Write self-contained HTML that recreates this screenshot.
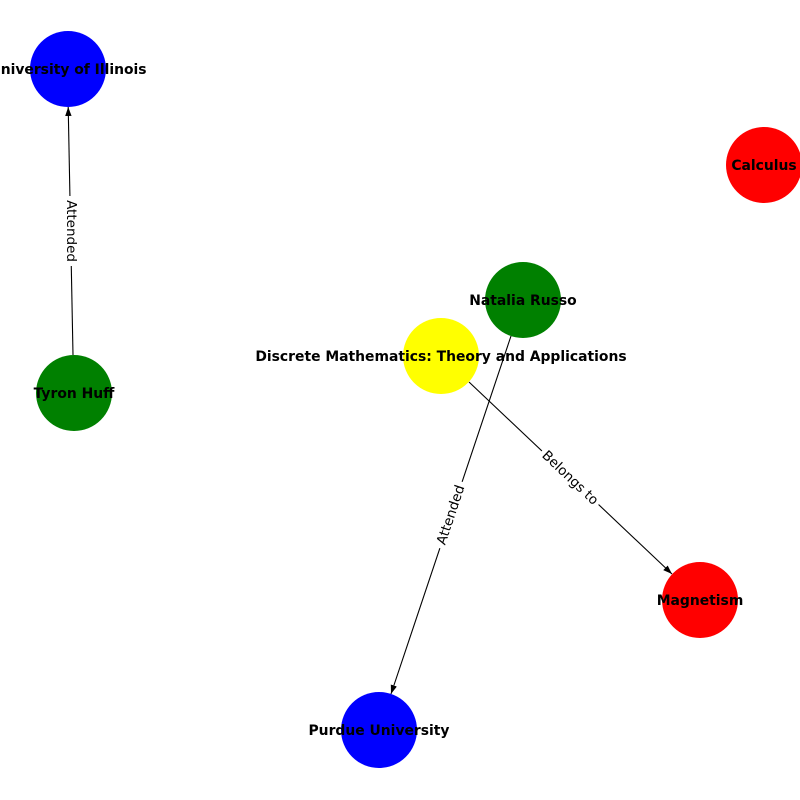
<!DOCTYPE html>
<html><head><style>body{margin:0;background:#fff}svg{display:block}</style></head><body>
<svg width="800" height="800" viewBox="0 0 800 800" xmlns="http://www.w3.org/2000/svg" font-family="DejaVu Sans, Liberation Sans, sans-serif">
<defs><marker id="a" markerWidth="10" markerHeight="8" refX="9" refY="4" orient="auto" markerUnits="userSpaceOnUse"><path d="M0,0.8 L9,4 L0,7.2 Z" fill="#000"/></marker></defs>
<g stroke="#000" stroke-width="1.1" fill="none">
<line x1="73" y1="355" x2="68.2" y2="107" marker-end="url(#a)"/>
<line x1="511" y1="336" x2="391" y2="694" marker-end="url(#a)"/>
<line x1="469" y1="382" x2="672" y2="574" marker-end="url(#a)"/>
</g>
<g font-size="13.5" text-anchor="middle" dominant-baseline="central">
<g transform="translate(71,231) rotate(90)"><rect x="-35" y="-10" width="70" height="20" fill="#fff"/><text>Attended</text></g>
<g transform="translate(451,515) rotate(-71.5)"><rect x="-35" y="-10" width="70" height="20" fill="#fff"/><text>Attended</text></g>
<g transform="translate(570,478) rotate(43.4)"><rect x="-39" y="-10" width="78" height="20" fill="#fff"/><text>Belongs to</text></g>
</g>
<g>
<circle cx="68" cy="69" r="38" fill="#0000ff"/>
<circle cx="764" cy="165" r="38" fill="#ff0000"/>
<circle cx="523" cy="300" r="38" fill="#008000"/>
<circle cx="441" cy="356" r="38" fill="#ffff00"/>
<circle cx="74" cy="393" r="38" fill="#008000"/>
<circle cx="700" cy="600" r="38" fill="#ff0000"/>
<circle cx="379" cy="730" r="38" fill="#0000ff"/>
</g>
<g font-size="13.9" font-weight="bold" text-anchor="middle" dominant-baseline="central" fill="#000">
<text x="68" y="70">University of Illinois</text>
<text x="764" y="166">Calculus</text>
<text x="523" y="301">Natalia Russo</text>
<text x="441" y="357">Discrete Mathematics: Theory and Applications</text>
<text x="74" y="394">Tyron Huff</text>
<text x="700" y="601">Magnetism</text>
<text x="379" y="731">Purdue University</text>
</g>
</svg>
</body></html>
